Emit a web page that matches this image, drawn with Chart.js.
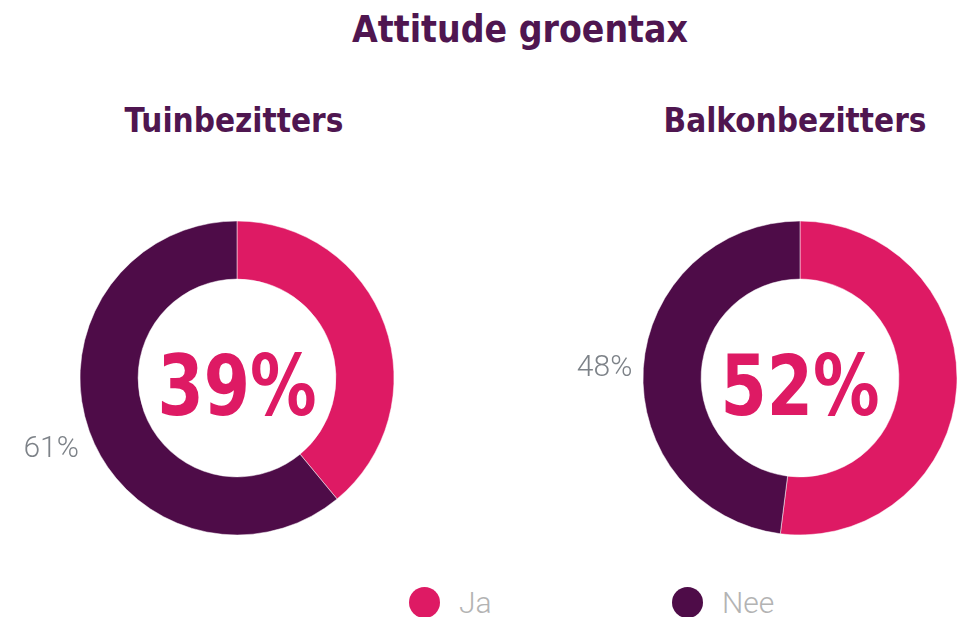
<!DOCTYPE html>
<html>
<head>
<meta charset="utf-8">
<script src="https://cdn.jsdelivr.net/npm/chart.js@4"></script>
<style>
  html, body { margin: 0; padding: 0; background: #fff; overflow: hidden; }
  body { width: 957px; height: 617px; position: relative; font-family: "DejaVu Sans Condensed", "DejaVu Sans", sans-serif; }
  .title { position: absolute; left: 0; width: 1040px; top: 8px; text-align: center; font-weight: bold; font-size: 37px; color: #4f1650; }
  .sub { position: absolute; top: 101px; width: 474px; text-align: center; font-weight: bold; font-size: 33px; color: #4f1650; }
  canvas { position: absolute; }
  .legend { position: absolute; top: 585px; font-family: Roboto, "Noto Sans", sans-serif; font-weight: 300; font-size: 30px; color: #b3b3b3; display: flex; align-items: center; }
  .dot { width: 31px; height: 31px; border-radius: 50%; margin-right: 19px; }
</style>
</head>
<body>
<div class="title">Attitude groentax</div>
<div class="sub" id="sub0" style="left:-3px"></div>
<div class="sub" id="sub1" style="left:558px"></div>
<canvas id="chart0" width="474" height="356" style="left:0px;top:200px"></canvas>
<canvas id="chart1" width="474" height="356" style="left:563px;top:200px"></canvas>
<div class="legend" id="leg0" style="left:409px"></div>
<div class="legend" id="leg1" style="left:672px"></div>
<script>
// data
const groups = ['Tuinbezitters', 'Balkonbezitters'];
const categories = ['Ja', 'Nee'];
const tuinValues = [39, 61];
const balkonValues = [52, 48];
const colors = ['#de1a64', '#4e0c48'];

const seriesByGroup = [tuinValues, balkonValues];

const donutLabels = {
  id: 'donutLabels',
  afterDatasetsDraw(chart) {
    const ctx = chart.ctx;
    const values = chart.data.datasets[0].data;
    const arcs = chart.getDatasetMeta(0).data;
    const c = arcs[0];
    ctx.save();
    // big number in the hole (squeezed a bit, the original font is narrower)
    ctx.save();
    ctx.translate(c.x, c.y + 37);
    ctx.scale(0.88, 1);
    ctx.fillStyle = colors[0];
    ctx.font = 'bold 84px "DejaVu Sans Condensed", "DejaVu Sans", sans-serif';
    ctx.textAlign = 'center';
    ctx.textBaseline = 'alphabetic';
    ctx.fillText(values[0] + '%', 0, 0);
    ctx.restore();
    // outside label for the second slice
    const a = arcs[1];
    const mid = (a.startAngle + a.endAngle) / 2;
    const r = a.outerRadius + 11;
    const lx = a.x + Math.cos(mid) * r;
    const ly = a.y + Math.sin(mid) * r + 3 + Math.sin(mid) * 33;
    ctx.fillStyle = '#7d8288';
    ctx.font = '300 30px Roboto, "Noto Sans", sans-serif';
    ctx.textAlign = Math.cos(mid) < 0 ? 'right' : 'left';
    ctx.textBaseline = 'middle';
    ctx.fillText(values[1] + '%', lx, ly);
    ctx.restore();
  }
};

groups.forEach((g, i) => {
  document.getElementById('sub' + i).textContent = g;
  new Chart(document.getElementById('chart' + i), {
    type: 'doughnut',
    data: {
      labels: categories,
      datasets: [{
        data: seriesByGroup[i],
        backgroundColor: colors,
        borderColor: '#ffffff',
        borderWidth: 0.5,
      }],
    },
    options: {
      responsive: false,
      animation: false,
      radius: 157,
      cutout: '63%',
      layout: { padding: 0 },
      plugins: {
        legend: { display: false },
        tooltip: { enabled: false },
      },
    },
    plugins: [donutLabels],
  });
});

// legend
categories.forEach((cat, i) => {
  const el = document.getElementById('leg' + i);
  el.innerHTML = `<div class="dot" style="background:${colors[i]}"></div><span>${cat}</span>`;
});
</script>
</body>
</html>
